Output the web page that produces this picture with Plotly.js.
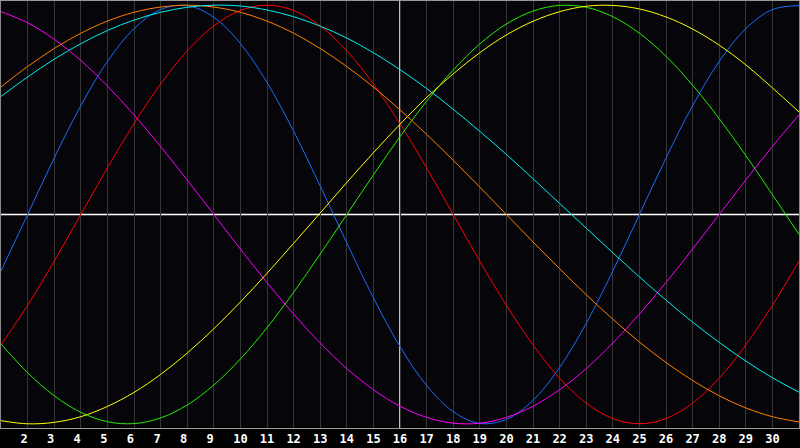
<!DOCTYPE html>
<html>
<head>
<meta charset="utf-8">
<script src="https://cdn.plot.ly/plotly-3.0.1.min.js"></script>
<style>
  html, body { margin: 0; padding: 0; background: #000; }
  #chart { width: 800px; height: 448px; }
</style>
</head>
<body>
<div id="chart"></div>
<script>
// Days of the month shown on the x axis
const days = [1,2,3,4,5,6,7,8,9,10,11,12,13,14,15,16,17,18,19,20,21,22,23,24,25,26,27,28,29,30,31];

// Tick labels along the bottom
const tickDays = [2,3,4,5,6,7,8,9,10,11,12,13,14,15,16,17,18,19,20,21,22,23,24,25,26,27,28,29,30];
const tickLabels = ["2","3","4","5","6","7","8","9","10","11","12","13","14","15","16","17","18","19","20","21","22","23","24","25","26","27","28","29","30"];

// Cycle values (percent, -100 .. 100), one per day
const physical     = [-27.0, 0, 27.0, 52.0, 73.1, 88.8, 97.9, 99.8, 94.2, 81.7, 63.1, 39.8, 13.6, -13.6, -39.8, -63.1, -81.7, -94.2, -99.8, -97.9, -88.8, -73.1, -52.0, -27.0, 0, 27.0, 52.0, 73.1, 88.8, 97.9, 99.8];
const emotional    = [-62.3, -43.4, -22.3, 0, 22.3, 43.4, 62.3, 78.2, 90.1, 97.5, 100, 97.5, 90.1, 78.2, 62.3, 43.4, 22.3, 0, -22.3, -43.4, -62.3, -78.2, -90.1, -97.5, -100, -97.5, -90.1, -78.2, -62.3, -43.4, -22.3];
const intellectual = [-61.8, -75.6, -86.6, -94.5, -99.0, -99.9, -97.2, -91.0, -81.5, -69.0, -54.1, -37.2, -18.9, 0, 18.9, 37.2, 54.1, 69.0, 81.5, 91.0, 97.2, 99.9, 99.0, 94.5, 86.6, 75.6, 61.8, 45.8, 28.2, 9.5, -9.5];
const intuitive    = [96.9, 91.6, 83.7, 73.6, 61.4, 47.6, 32.5, 16.5, 0, -16.5, -32.5, -47.6, -61.4, -73.6, -83.7, -91.6, -96.9, -99.7, -99.7, -96.9, -91.6, -83.7, -73.6, -61.4, -47.6, -32.5, -16.5, 0, 16.5, 32.5, 47.6];
const aesthetic    = [-98.5, -100.0, -99.3, -96.6, -91.7, -85.0, -76.4, -66.2, -54.6, -41.8, -28.1, -13.8, 0.7, 15.3, 29.5, 43.1, 55.9, 67.2, 77.3, 85.8, 92.3, 96.9, 99.5, 99.9, 98.2, 94.4, 88.6, 80.9, 71.5, 60.5, 49.0];
const awareness    = [60.9, 70.7, 79.3, 86.6, 92.4, 96.6, 99.1, 100, 99.1, 96.6, 92.4, 86.6, 79.3, 70.7, 60.9, 50.0, 38.3, 25.9, 13.1, 0, -13.1, -25.9, -38.3, -50.0, -60.9, -70.7, -79.3, -86.6, -92.4, -96.6, -99.1];
const spiritual    = [56.4, 65.7, 74.2, 81.6, 87.9, 92.9, 96.6, 99.0, 100.0, 99.6, 97.7, 94.5, 90.0, 84.3, 77.3, 69.2, 60.2, 50.3, 39.7, 28.7, 17.1, 5.3, -6.5, -18.3, -29.8, -40.9, -51.4, -61.1, -70.0, -78.0, -84.9];

const seriesNames  = ["Physical", "Emotional", "Intellectual", "Intuitive", "Aesthetic", "Awareness", "Spiritual"];
const seriesValues = [physical, emotional, intellectual, intuitive, aesthetic, awareness, spiritual];
const seriesColors = ["#1a6cff", "#ff0000", "#22ee00", "#ff00ff", "#ffff00", "#ff8000", "#00f0f0"];

const traces = seriesValues.map((vals, i) => ({
  x: days,
  y: vals,
  type: "scatter",
  mode: "lines",
  name: seriesNames[i],
  line: { color: seriesColors[i], width: 1, shape: "spline", smoothing: 1 },
  hoverinfo: "skip"
}));

// pad single-digit labels so all labels start just left of their grid line
const tickText = tickLabels.map(t => t.length === 1 ? t + "\u00a0" : t);

const layout = {
  width: 800,
  height: 448,
  margin: { l: 1, r: 1, t: 1, b: 20, pad: 0 },
  paper_bgcolor: "#000000",
  plot_bgcolor: "#060509",
  showlegend: false,
  hovermode: false,
  xaxis: {
    range: [1, 31],
    tickmode: "array",
    tickvals: tickDays,
    ticktext: tickText,
    ticks: "",
    showgrid: true,
    gridcolor: "#353535",
    gridwidth: 1,
    zeroline: false,
    showline: true,
    linecolor: "#9a9a9a",
    linewidth: 1,
    mirror: true,
    tickfont: { family: "DejaVu Sans Mono", size: 12, color: "#ffffff", weight: "bold" },
    fixedrange: true
  },
  yaxis: {
    range: [-102, 102],
    showgrid: false,
    zeroline: false,
    showticklabels: false,
    ticks: "",
    showline: true,
    linecolor: "#8a8a8a",
    linewidth: 1,
    mirror: true,
    fixedrange: true
  },
  shapes: [
    { type: "line", xref: "x", yref: "paper", x0: 16, x1: 16, y0: 0, y1: 1,
      line: { color: "#ffffff", width: 1.5 }, layer: "below" },
    { type: "line", xref: "paper", yref: "y", x0: 0, x1: 1, y0: 0, y1: 0,
      line: { color: "#ffffff", width: 1.5 }, layer: "below" }
  ]
};

Plotly.newPlot("chart", traces, layout, { displayModeBar: false, staticPlot: true });
</script>
</body>
</html>
